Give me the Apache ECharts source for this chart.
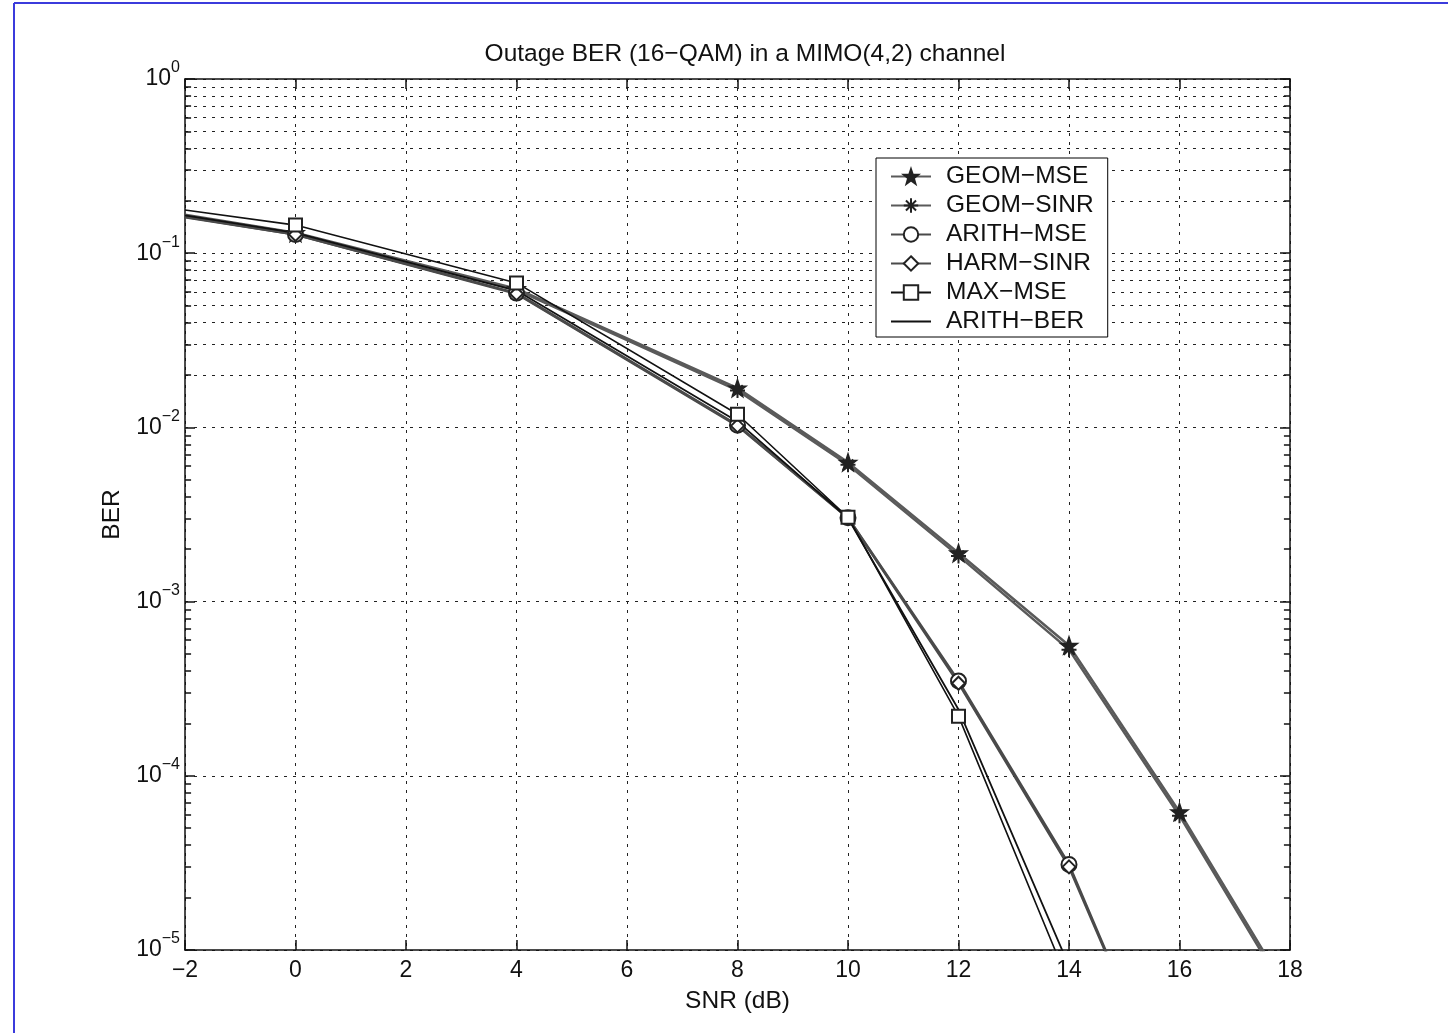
<!DOCTYPE html>
<html>
<head>
<meta charset="utf-8">
<title>Outage BER</title>
<script src="https://cdn.jsdelivr.net/npm/echarts@6/dist/echarts.min.js"></script>
<style>
  html, body { margin: 0; padding: 0; background: #fff; }
  #chart { width: 1448px; height: 1033px; }
</style>
</head>
<body>
<div id="chart"></div>
<script>
// SNR points (dB)
var snr = [-2, 0, 4, 8, 10, 12, 14, 16, 18];

// BER values
var geomMse  = [0.166, 0.131, 0.0625, 0.0168, 0.0063, 0.0019, 0.00056, 6.2e-5, 5.5e-6];
var geomSinr = [0.164, 0.130, 0.0615, 0.0163, 0.0061, 0.00183, 0.00053, 5.9e-5, 5.2e-6];
var arithMse = [0.162, 0.128, 0.059, 0.0103, 0.00303, 0.00035, 3.1e-5, 1.0e-6, null];
var harmSinr = [0.161, 0.128, 0.0585, 0.0102, 0.00302, 0.00034, 3.0e-5, 1.0e-6, null];
var maxMse   = [0.177, 0.145, 0.0675, 0.0119, 0.00305, 0.00022, 6.4e-6, null, null];
var arithBer = [0.165, 0.131, 0.061, 0.0108, 0.00301, 0.00024, 8.1e-6, null, null];

var seriesNames = ['GEOM−MSE', 'GEOM−SINR', 'ARITH−MSE', 'HARM−SINR', 'MAX−MSE', 'ARITH−BER'];

// axis ticks
var xTicks = [-2, 0, 2, 4, 6, 8, 10, 12, 14, 16, 18];
var yDecades = [-5, -4, -3, -2, -1, 0];
var yMinorMult = [2, 3, 4, 5, 6, 7, 8, 9];

var FONT = 'Liberation Sans, Arial, Helvetica, sans-serif';

var starPath = 'path://M0,-10 L2.35,-3.24 L9.51,-3.09 L3.8,1.24 L5.88,8.09 L0,4 L-5.88,8.09 L-3.8,1.24 L-9.51,-3.09 L-2.35,-3.24 Z';
var asteriskPath = 'path://M0,-10 L0,10 M-10,0 L10,0 M-7,-7 L7,7 M-7,7 L7,-7';

function pairs(values) {
    var out = [];
    for (var i = 0; i < snr.length; i++) {
        if (values[i] === null) continue;
        var p = { value: [snr[i], values[i]] };
        // no marker at the left edge
        if (snr[i] === -2) p.symbol = 'none';
        out.push(p);
    }
    return out;
}

// minor grid lines and minor ticks for the log axis
var minorY = [];
for (var d = 0; d < yDecades.length - 1; d++) {
    for (var k = 0; k < yMinorMult.length; k++) {
        minorY.push(yMinorMult[k] * Math.pow(10, yDecades[d]));
    }
}
var minorLines = [];
var minorTicks = [];
for (var m = 0; m < minorY.length; m++) {
    minorLines.push({ yAxis: minorY[m] });
    minorTicks.push([{ coord: [-2, minorY[m]] }, { coord: [-1.89, minorY[m]] }]);
    minorTicks.push([{ coord: [18, minorY[m]] }, { coord: [17.89, minorY[m]] }]);
}

function supLabel(value) {
    var e = Math.round(Math.log(value) / Math.LN10);
    return '{b|10}{s|' + (e < 0 ? '−' + (-e) : e) + '}';
}

var gridDash = { color: '#222', width: 1, type: [3, 6] };

function makeSeries(name, data, color, width, symbol, size, extra) {
    var s = {
        name: name,
        type: 'line',
        data: pairs(data),
        symbol: symbol,
        symbolSize: size,
        showAllSymbol: true,
        clip: true,
        z: 3,
        lineStyle: { color: color, width: width },
        itemStyle: { color: '#222', borderColor: '#222', borderWidth: 1.5 },
        emphasis: { disabled: true }
    };
    if (extra) {
        for (var key in extra) s[key] = extra[key];
    }
    return s;
}

var legendData = [];
for (var n = 0; n < seriesNames.length; n++) {
    legendData.push({ name: seriesNames[n] });
}
// plain line sample for ARITH-BER
legendData[5].itemStyle = { opacity: 0 };

var chart = echarts.init(document.getElementById('chart'));
var option = {
    backgroundColor: '#fff',
    animation: false,
    title: {
        text: 'Outage BER (16−QAM) in a MIMO(4,2) channel',
        left: 740,
        top: 37,
        textAlign: 'center',
        textStyle: { fontFamily: FONT, fontSize: 24.5, fontWeight: 'normal', color: '#111' }
    },
    grid: { left: 185, right: 158, top: 79, bottom: 83, show: false },
    legend: {
        data: legendData,
        orient: 'vertical',
        left: 876,
        top: 158,
        z: 10,
        padding: [6, 14, 3, 14],
        itemWidth: 40,
        itemHeight: 18,
        itemGap: 4,
        backgroundColor: '#fff',
        borderColor: '#000',
        borderWidth: 1,
        textStyle: { fontFamily: FONT, fontSize: 24.5, color: '#111', lineHeight: 24, padding: [0, 0, 0, 10] }
    },
    xAxis: [
        {
            type: 'value',
            min: -2,
            max: 18,
            interval: 2,
            name: 'SNR (dB)',
            nameLocation: 'middle',
            nameGap: 39,
            nameTextStyle: { fontFamily: FONT, fontSize: 24.5, color: '#111' },
            axisLine: { lineStyle: { color: '#111', width: 1.5 } },
            axisTick: { inside: true, length: 10, lineStyle: { color: '#111', width: 1.5 } },
            axisLabel: { fontFamily: FONT, fontSize: 23, color: '#111', margin: 9,
                formatter: function (v) { return v < 0 ? '−' + (-v) : '' + v; } },
            splitLine: { show: true, lineStyle: gridDash }
        },
        {
            type: 'value',
            position: 'top',
            min: -2,
            max: 18,
            interval: 2,
            axisLine: { onZero: false, lineStyle: { color: '#111', width: 1.5 } },
            axisTick: { inside: true, length: 10, lineStyle: { color: '#111', width: 1.5 } },
            axisLabel: { show: false },
            splitLine: { show: false }
        }
    ],
    yAxis: [
        {
            type: 'log',
            logBase: 10,
            min: 1e-5,
            max: 1,
            name: 'BER',
            nameLocation: 'middle',
            nameGap: 60,
            nameTextStyle: { fontFamily: FONT, fontSize: 24.5, color: '#111' },
            axisLine: { onZero: false, lineStyle: { color: '#111', width: 1.5 } },
            axisTick: { inside: true, length: 10, lineStyle: { color: '#111', width: 1.5 } },
            axisLabel: {
                margin: 5,
                formatter: supLabel,
                rich: {
                    b: { fontFamily: FONT, fontSize: 23, color: '#111' },
                    s: { fontFamily: FONT, fontSize: 16, color: '#111', padding: [0, 0, 22, 0] }
                }
            },
            splitLine: { show: true, lineStyle: gridDash }
        },
        {
            type: 'log',
            logBase: 10,
            min: 1e-5,
            max: 1,
            position: 'right',
            axisLine: { onZero: false, lineStyle: { color: '#111', width: 1.5 } },
            axisTick: { inside: true, length: 10, lineStyle: { color: '#111', width: 1.5 } },
            axisLabel: { show: false },
            splitLine: { show: false }
        }
    ],
    series: [
        // dummy carrier for the minor grid of the log axis
        {
            name: 'grid',
            type: 'line',
            data: [],
            z: 1,
            silent: true,
            markLine: {
                silent: true,
                symbol: 'none',
                label: { show: false },
                animation: false,
                z: 1,
                lineStyle: gridDash,
                data: minorLines
            }
        },
        {
            name: 'ticks',
            type: 'line',
            data: [],
            z: 4,
            silent: true,
            markLine: {
                silent: true,
                symbol: 'none',
                label: { show: false },
                animation: false,
                z: 4,
                lineStyle: { color: '#111', width: 1.5, type: 'solid' },
                data: minorTicks
            }
        },
        makeSeries(seriesNames[0], geomMse, '#5a5a5a', 2.5, starPath, 17),
        makeSeries(seriesNames[1], geomSinr, '#5a5a5a', 2.5, asteriskPath, 15,
            { itemStyle: { color: '#222', borderColor: '#222', borderWidth: 2 } }),
        makeSeries(seriesNames[2], arithMse, '#4a4a4a', 2.5, 'emptyCircle', 15),
        makeSeries(seriesNames[3], harmSinr, '#4a4a4a', 2.5, 'emptyDiamond', 13),
        makeSeries(seriesNames[4], maxMse, '#111', 1.6, 'emptyRect', 13),
        makeSeries(seriesNames[5], arithBer, '#111', 1.8, 'none', 0)
    ],
    graphic: [
        { type: 'line', shape: { x1: 14, y1: 3, x2: 1448, y2: 3 }, style: { stroke: '#3b3bdc', lineWidth: 2 } },
        { type: 'line', shape: { x1: 14, y1: 3, x2: 14, y2: 1033 }, style: { stroke: '#3b3bdc', lineWidth: 2 } }
    ]
};
chart.setOption(option);
</script>
</body>
</html>
